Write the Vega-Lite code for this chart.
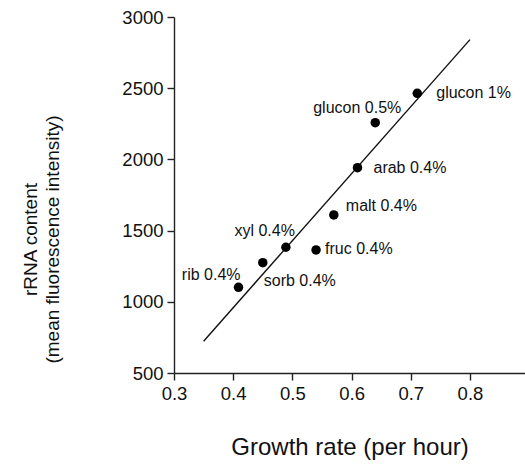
{
  "$schema": "https://vega.github.io/schema/vega-lite/v6.json",
  "autosize": "none",
  "width": 351,
  "height": 356,
  "padding": {"left": 174, "top": 17, "right": 0, "bottom": 91},
  "background": "white",
  "config": {
    "view": {"stroke": null},
    "font": "Liberation Sans",
    "axis": {
      "grid": false,
      "domainColor": "#222",
      "domainWidth": 1.4,
      "tickColor": "#222",
      "tickWidth": 1.4,
      "labelColor": "#111",
      "titleColor": "#111",
      "labelFont": "Liberation Sans",
      "titleFont": "Liberation Sans",
      "titleFontWeight": "normal"
    }
  },
  "datasets": {
    "pts": [
      {"name": "glucon 1%", "rate": 0.711, "rrna": 2464},
      {"name": "glucon 0.5%", "rate": 0.64, "rrna": 2258},
      {"name": "arab 0.4%", "rate": 0.61, "rrna": 1942},
      {"name": "malt 0.4%", "rate": 0.57, "rrna": 1610},
      {"name": "fruc 0.4%", "rate": 0.54, "rrna": 1364},
      {"name": "xyl 0.4%", "rate": 0.489, "rrna": 1383},
      {"name": "sorb 0.4%", "rate": 0.45, "rrna": 1275},
      {"name": "rib 0.4%", "rate": 0.409, "rrna": 1102}
    ],
    "fit": [
      {"rate": 0.35, "rrna": 723},
      {"rate": 0.8, "rrna": 2841}
    ]
  },
  "layer": [
    {
      "data": {"name": "fit"},
      "mark": {"type": "line", "color": "#111", "strokeWidth": 1.4, "clip": true},
      "encoding": {
        "x": {"field": "rate", "type": "quantitative",
          "scale": {"domain": [0.3, 0.893], "nice": false, "zero": false},
          "axis": {"values": [0.3, 0.4, 0.5, 0.6, 0.7, 0.8], "format": ".1f",
            "title": "Growth rate (per hour)", "titleFontSize": 24,
            "titleX": 175.5, "titleY": 81, "titleBaseline": "alphabetic",
            "labelFontSize": 18.5, "tickSize": 7, "labelPadding": 4,
            "labelFlush": false}},
        "y": {"field": "rrna", "type": "quantitative",
          "scale": {"domain": [500, 3000], "nice": false, "zero": false},
          "axis": {"values": [500, 1000, 1500, 2000, 2500, 3000], "format": "d",
            "title": ["rRNA content", "(mean fluorescence intensity)"],
            "titleFontSize": 19, "titleLineHeight": 22,
            "titleAngle": -90, "titleX": -144, "titleY": 222,
            "titleAlign": "center", "titleBaseline": "middle",
            "labelFontSize": 18.5, "tickSize": 7, "labelPadding": 4}}
      }
    },
    {
      "data": {"name": "pts"},
      "mark": {"type": "circle", "color": "#000", "opacity": 1, "size": 90},
      "encoding": {
        "x": {"field": "rate", "type": "quantitative"},
        "y": {"field": "rrna", "type": "quantitative"}
      }
    },
    {
      "data": {"name": "pts"},
      "transform": [{"filter": "datum.name === 'glucon 1%'"}],
      "mark": {"type": "text", "align": "left", "baseline": "middle", "dx": 19, "dy": 0, "fontSize": 16, "color": "#111"},
      "encoding": {"x": {"field": "rate", "type": "quantitative"}, "y": {"field": "rrna", "type": "quantitative"}, "text": {"field": "name"}}
    },
    {
      "data": {"name": "pts"},
      "transform": [{"filter": "datum.name === 'arab 0.4%'"}],
      "mark": {"type": "text", "align": "left", "baseline": "middle", "dx": 16, "dy": 0, "fontSize": 16, "color": "#111"},
      "encoding": {"x": {"field": "rate", "type": "quantitative"}, "y": {"field": "rrna", "type": "quantitative"}, "text": {"field": "name"}}
    },
    {
      "data": {"name": "pts"},
      "transform": [{"filter": "datum.name === 'fruc 0.4%'"}],
      "mark": {"type": "text", "align": "left", "baseline": "middle", "dx": 9, "dy": -1, "fontSize": 16, "color": "#111"},
      "encoding": {"x": {"field": "rate", "type": "quantitative"}, "y": {"field": "rrna", "type": "quantitative"}, "text": {"field": "name"}}
    },
    {
      "data": {"name": "pts"},
      "transform": [{"filter": "datum.name === 'malt 0.4%'"}],
      "mark": {"type": "text", "align": "left", "baseline": "middle", "dx": 12, "dy": -9, "fontSize": 16, "color": "#111"},
      "encoding": {"x": {"field": "rate", "type": "quantitative"}, "y": {"field": "rrna", "type": "quantitative"}, "text": {"field": "name"}}
    },
    {
      "data": {"name": "pts"},
      "transform": [{"filter": "datum.name === 'glucon 0.5%'"}],
      "mark": {"type": "text", "align": "center", "baseline": "middle", "dx": -18, "dy": -15, "fontSize": 16, "color": "#111"},
      "encoding": {"x": {"field": "rate", "type": "quantitative"}, "y": {"field": "rrna", "type": "quantitative"}, "text": {"field": "name"}}
    },
    {
      "data": {"name": "pts"},
      "transform": [{"filter": "datum.name === 'xyl 0.4%'"}],
      "mark": {"type": "text", "align": "right", "baseline": "middle", "dx": 9, "dy": -16, "fontSize": 16, "color": "#111"},
      "encoding": {"x": {"field": "rate", "type": "quantitative"}, "y": {"field": "rrna", "type": "quantitative"}, "text": {"field": "name"}}
    },
    {
      "data": {"name": "pts"},
      "transform": [{"filter": "datum.name === 'sorb 0.4%'"}],
      "mark": {"type": "text", "align": "left", "baseline": "middle", "dx": 1, "dy": 18, "fontSize": 16, "color": "#111"},
      "encoding": {"x": {"field": "rate", "type": "quantitative"}, "y": {"field": "rrna", "type": "quantitative"}, "text": {"field": "name"}}
    },
    {
      "data": {"name": "pts"},
      "transform": [{"filter": "datum.name === 'rib 0.4%'"}],
      "mark": {"type": "text", "align": "right", "baseline": "middle", "dx": 2, "dy": -12, "fontSize": 16, "color": "#111"},
      "encoding": {"x": {"field": "rate", "type": "quantitative"}, "y": {"field": "rrna", "type": "quantitative"}, "text": {"field": "name"}}
    }
  ]
}
